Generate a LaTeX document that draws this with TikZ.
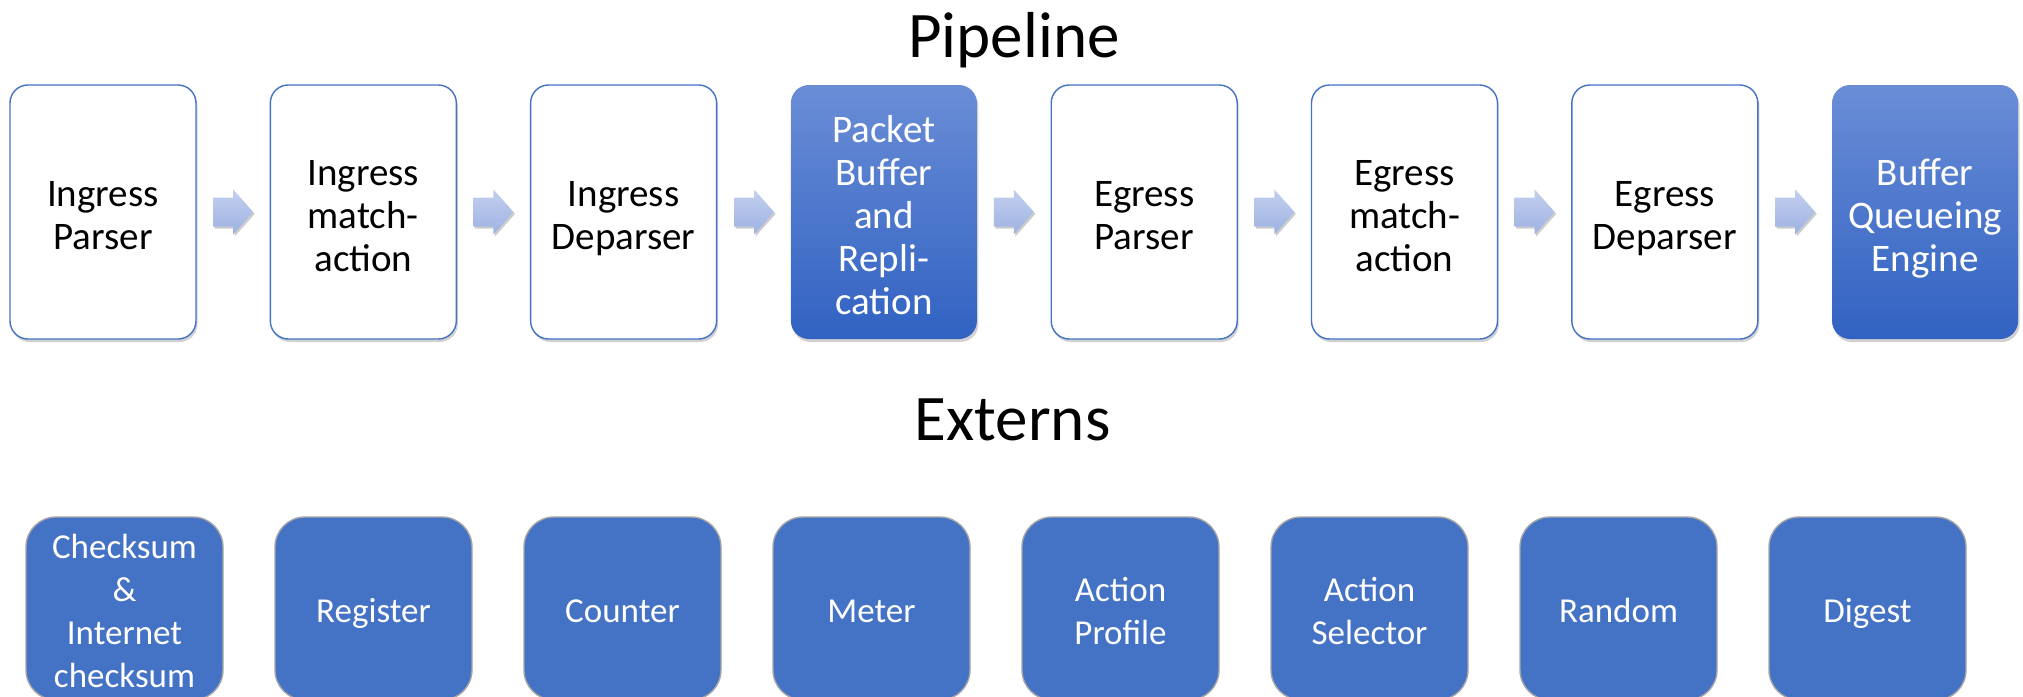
\documentclass[tikz,border=0pt]{standalone}
\usepackage{fontspec}
\setmainfont{Carlito}
\setlength{\parindent}{0pt}
\usetikzlibrary{calc,shadows}
\definecolor{accent}{HTML}{4472C4}
\definecolor{gradtop}{HTML}{6A8DD6}
\definecolor{gradbot}{HTML}{3162C2}
\definecolor{arrtop}{HTML}{C3CFEE}
\definecolor{arrbot}{HTML}{9DB2E2}
\definecolor{extborder}{HTML}{A6A6A6}
\tikzset{
  stagebox/.style={rounded corners=18pt, text width=186pt, minimum width=186pt, minimum height=254pt,
    align=center, inner sep=0pt, font=\fontsize{39}{43}\selectfont,
    execute at begin node={\rule{0pt}{45pt}}, execute at end node={\rule[-13pt]{0pt}{13pt}},
    drop shadow={shadow xshift=1.5pt, shadow yshift=-3pt, opacity=0.18, fill=black}},
  whitebox/.style={stagebox, draw=accent, line width=1.4pt, fill=white, text=black},
  bluebox/.style={stagebox, top color=gradtop, bottom color=gradbot, draw=none, text=white},
  externbox/.style={rounded corners=30pt, text width=197pt, minimum width=197pt, minimum height=183pt,
    align=center, inner sep=0pt, fill=accent, draw=extborder, line width=1.4pt,
    execute at begin node={\rule{0pt}{40pt}}, execute at end node={\rule[-12pt]{0pt}{12pt}},
    text=white, font=\fontsize{35}{43}\selectfont},
  blockarrow/.style={top color=arrtop, bottom color=arrbot, draw=none,
    drop shadow={shadow xshift=1.5pt, shadow yshift=-2pt, opacity=0.2, fill=black}},
  titletext/.style={font=\fontsize{65}{70}\selectfont, anchor=base}
}
\begin{document}
\begin{tikzpicture}[x=1pt,y=-1pt]
\useasboundingbox (0,0) rectangle (2023,696);
\node[titletext] (ttop) at (1014,57) {Pipeline};
\node[titletext] (tbot) at (1012.5,440) {Externs};
% pipeline
\node[whitebox] (p1) at (103.0,212) {Ingress\\Parser};
\node[whitebox] (p2) at (363.3,212) {Ingress\\match-\\action};
\node[whitebox] (p3) at (623.6,212) {Ingress\\Deparser};
\node[bluebox]  (p4) at (883.9,212) {Packet\\Buffer\\and\\Repli-\\cation};
\node[whitebox] (p5) at (1144.2,212) {Egress\\Parser};
\node[whitebox] (p6) at (1404.5,212) {Egress\\match-\\action};
\node[whitebox] (p7) at (1664.8,212) {Egress\\Deparser};
\node[bluebox]  (p8) at (1925.1,212) {Buffer\\Queueing\\Engine};
\foreach \i/\j in {1/2,2/3,3/4,4/5,5/6,6/7,7/8}{
  \coordinate (m\i) at ($(p\i.east)!0.5!(p\j.west)$);
  \path[blockarrow] ([xshift=-20pt,yshift=-14.5pt]m\i) -- ([xshift=0pt,yshift=-14.5pt]m\i)
    -- ([xshift=0pt,yshift=-22.5pt]m\i) -- ([xshift=20pt]m\i)
    -- ([xshift=0pt,yshift=22.5pt]m\i) -- ([xshift=0pt,yshift=14.5pt]m\i)
    -- ([xshift=-20pt,yshift=14.5pt]m\i) -- cycle;
}
% externs
\node[externbox] (e1) at (124.5,608.5) {Checksum\\\&\\Internet\\checksum};
\node[externbox] (e2) at (373.5,608.5) {Register};
\node[externbox] (e3) at (622.5,608.5) {Counter};
\node[externbox] (e4) at (871.5,608.5) {Meter};
\node[externbox] (e5) at (1120.5,608.5) {Action\\Profile};
\node[externbox] (e6) at (1369.5,608.5) {Action\\Selector};
\node[externbox] (e7) at (1618.5,608.5) {Random};
\node[externbox] (e8) at (1867.5,608.5) {Digest};
\end{tikzpicture}
\end{document}
